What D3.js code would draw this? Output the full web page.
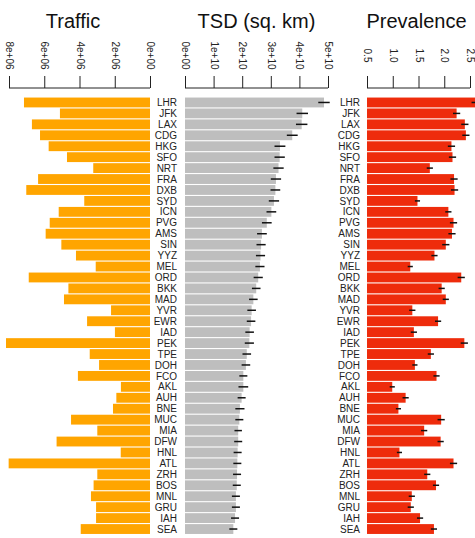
<!DOCTYPE html>
<html><head><meta charset="utf-8">
<script src="https://cdn.jsdelivr.net/npm/d3@7"></script>
<style>body{margin:0;background:#fff}svg{display:block;font-family:"Liberation Sans",Arial,sans-serif}</style>
</head><body><div id="chart"></div>
<script>
const airports = ["LHR","JFK","LAX","CDG","HKG","SFO","NRT","FRA","DXB","SYD","ICN","PVG","AMS","SIN","YYZ","MEL","ORD","BKK","MAD","YVR","EWR","IAD","PEK","TPE","DOH","FCO","AKL","AUH","BNE","MUC","MIA","DFW","HNL","ATL","ZRH","BOS","MNL","GRU","IAH","SEA"];
const traffic = [7.15e6,5.11e6,6.70e6,6.24e6,5.75e6,4.71e6,3.22e6,6.35e6,7.02e6,3.73e6,5.18e6,5.69e6,5.92e6,5.03e6,4.20e6,3.08e6,6.88e6,4.63e6,4.88e6,2.21e6,3.57e6,1.99e6,8.17e6,3.42e6,2.89e6,4.09e6,1.65e6,1.91e6,2.10e6,4.48e6,2.99e6,5.30e6,1.66e6,8.02e6,2.99e6,3.20e6,3.35e6,3.06e6,3.06e6,3.93e6];
const tsd = [4.86e10,4.10e10,4.08e10,3.75e10,3.32e10,3.31e10,3.27e10,3.18e10,3.16e10,3.11e10,3.02e10,2.86e10,2.69e10,2.66e10,2.64e10,2.62e10,2.56e10,2.49e10,2.39e10,2.33e10,2.31e10,2.26e10,2.25e10,2.16e10,2.13e10,2.04e10,2.04e10,1.98e10,1.92e10,1.90e10,1.86e10,1.86e10,1.84e10,1.83e10,1.82e10,1.81e10,1.78e10,1.78e10,1.75e10,1.69e10];
const tsdErr = [0.20e10,0.20e10,0.20e10,0.19e10,0.19e10,0.18e10,0.18e10,0.18e10,0.17e10,0.18e10,0.17e10,0.17e10,0.17e10,0.16e10,0.16e10,0.16e10,0.16e10,0.15e10,0.15e10,0.15e10,0.15e10,0.15e10,0.16e10,0.15e10,0.15e10,0.14e10,0.17e10,0.14e10,0.16e10,0.14e10,0.13e10,0.14e10,0.14e10,0.14e10,0.14e10,0.14e10,0.14e10,0.14e10,0.14e10,0.14e10];
const prevalence = [2.60,2.24,2.40,2.42,2.14,2.16,1.72,2.19,2.20,1.48,2.08,2.18,2.15,2.03,1.81,1.34,2.33,1.95,2.03,1.38,1.88,1.41,2.39,1.74,1.43,1.85,0.99,1.25,1.11,1.94,1.61,1.93,1.13,2.18,1.67,1.84,1.37,1.35,1.53,1.80];
const prevErr = [0.07,0.07,0.07,0.07,0.07,0.07,0.06,0.07,0.07,0.05,0.06,0.07,0.07,0.07,0.06,0.05,0.07,0.06,0.06,0.06,0.06,0.06,0.07,0.06,0.05,0.06,0.05,0.06,0.05,0.07,0.06,0.06,0.05,0.07,0.06,0.06,0.06,0.06,0.06,0.06];
const trafficTicks = [0,2e6,4e6,6e6,8e6];
const trafficTickLabels = ["0e+00","2e+06","4e+06","6e+06","8e+06"];
const tsdTicks = [0,1e10,2e10,3e10,4e10,5e10];
const tsdTickLabels = ["0e+00","1e+10","2e+10","3e+10","4e+10","5e+10"];
const prevTicks = [0.5,1.0,1.5,2.0,2.5];
const prevTickLabels = ["0.5","1.0","1.5","2.0","2.5"];
const titles = ["Traffic","TSD (sq. km)","Prevalence"];

const W = 475, H = 538;
const svg = d3.select("#chart").append("svg").attr("width", W).attr("height", H);

const y = d3.scaleBand().domain(airports).range([97, 534.5]).paddingInner(0.1).paddingOuter(0.05);
const xT = d3.scaleLinear().domain([0, 8e6]).range([150, 9]);
const xS = d3.scaleLinear().domain([0, 5e10]).range([185, 328]);
const xP = d3.scaleLinear().domain([0.5, 2.5]).range([367, 470]);

const axisY = 88;
function topAxis(scale, ticks, labels) {
  const g = svg.append("g").attr("transform", `translate(0,${axisY})`);
  const ax = d3.axisTop(scale).tickValues(ticks).tickFormat((d, i) => labels[i]).tickSize(12).tickSizeOuter(0);
  g.call(ax);
  g.select(".domain").attr("d", `M${scale(ticks[0])},0H${scale(ticks[ticks.length-1])}`).attr("stroke", "#222").attr("stroke-width", 1);
  g.selectAll(".tick line").attr("stroke", "#222");
  g.selectAll(".tick text")
    .attr("font-size", 10).attr("fill", "#222").attr("font-family", '"Liberation Sans",Arial,sans-serif')
    .attr("text-anchor", "middle").attr("dy", "0.35em")
    .attr("transform", "translate(0,-32.5) rotate(90)").attr("x", 0).attr("y", 0);
  return g;
}
topAxis(xT, trafficTicks, trafficTickLabels);
topAxis(xS, tsdTicks, tsdTickLabels);
topAxis(xP, prevTicks, prevTickLabels);

const titleX = [73, 256.5, 416.5];
svg.selectAll("text.title").data(titles).join("text").attr("class", "title")
  .attr("x", (d, i) => titleX[i]).attr("y", 28).attr("text-anchor", "middle")
  .attr("font-size", 20).attr("fill", "#111").text(d => d);

// Traffic bars
svg.append("g").selectAll("rect").data(airports).join("rect")
  .attr("x", (d, i) => xT(traffic[i])).attr("y", d => y(d))
  .attr("width", (d, i) => xT(0) - xT(traffic[i])).attr("height", y.bandwidth())
  .attr("fill", "#FFA500");

// TSD bars
svg.append("g").selectAll("rect").data(airports).join("rect")
  .attr("x", xS(0)).attr("y", d => y(d))
  .attr("width", (d, i) => xS(tsd[i]) - xS(0)).attr("height", y.bandwidth())
  .attr("fill", "#BEBEBE");
svg.append("g").selectAll("line").data(airports).join("line")
  .attr("x1", (d, i) => xS(tsd[i] - tsdErr[i])).attr("x2", (d, i) => xS(tsd[i] + tsdErr[i]))
  .attr("y1", d => y(d) + y.bandwidth() / 2).attr("y2", d => y(d) + y.bandwidth() / 2)
  .attr("stroke", "#111").attr("stroke-width", 1.5);

// Prevalence bars
svg.append("g").selectAll("rect").data(airports).join("rect")
  .attr("x", xP(0.5)).attr("y", d => y(d))
  .attr("width", (d, i) => xP(prevalence[i]) - xP(0.5)).attr("height", y.bandwidth())
  .attr("fill", "#EE2C0C");
svg.append("g").selectAll("line").data(airports).join("line")
  .attr("x1", (d, i) => xP(prevalence[i] - prevErr[i])).attr("x2", (d, i) => xP(prevalence[i] + prevErr[i]))
  .attr("y1", d => y(d) + y.bandwidth() / 2).attr("y2", d => y(d) + y.bandwidth() / 2)
  .attr("stroke", "#111").attr("stroke-width", 1.5);

// Labels
[177, 360].forEach(lx => {
  svg.append("g").selectAll("text").data(airports).join("text")
    .attr("x", lx).attr("y", d => y(d) + y.bandwidth() / 2).attr("dy", "0.36em")
    .attr("text-anchor", "end").attr("font-size", 10).attr("fill", "#222").text(d => d);
});
</script></body></html>
